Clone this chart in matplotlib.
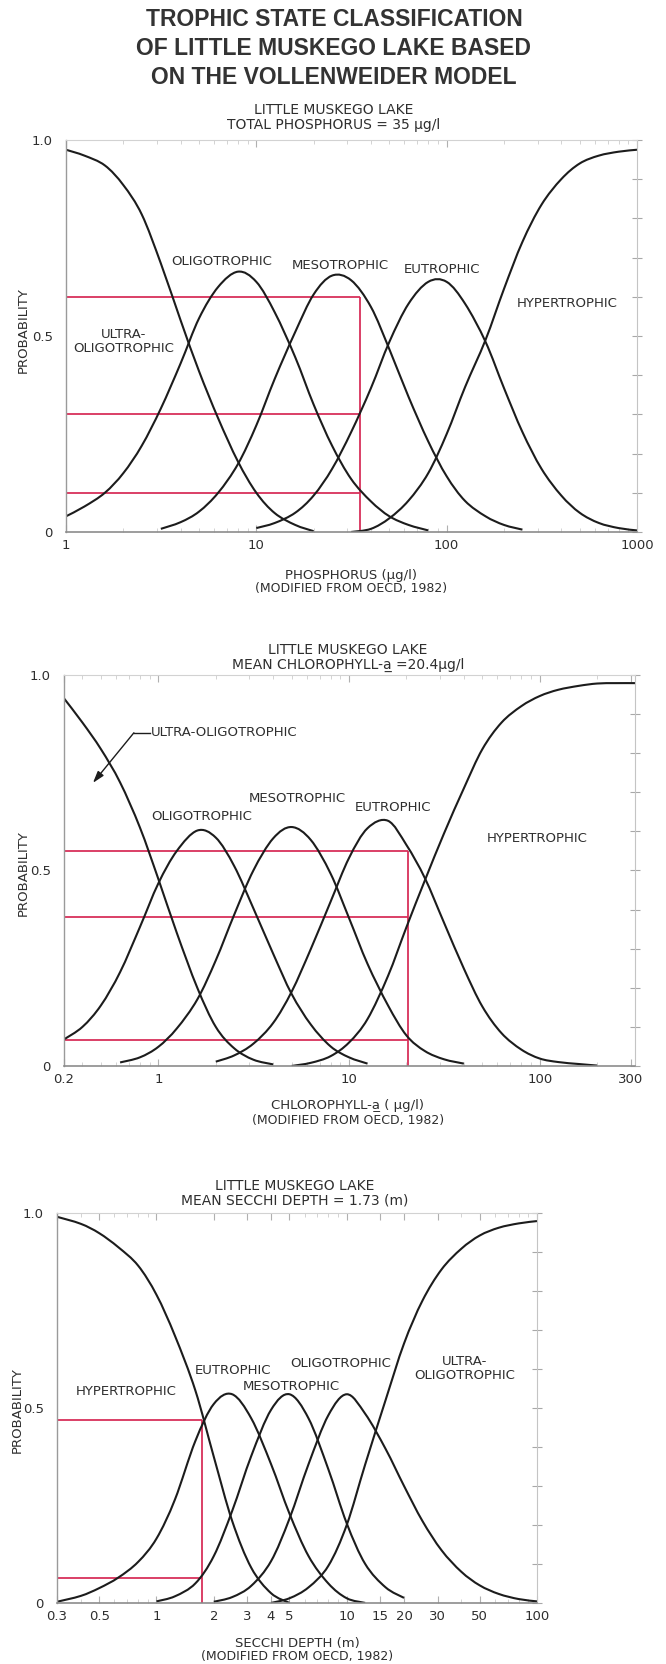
import numpy as np
import matplotlib
matplotlib.use('Agg')
import matplotlib.pyplot as plt
from matplotlib.path import Path
from matplotlib.patches import PathPatch
from matplotlib.ticker import NullFormatter

N = None

# ---- phosphorus panel (ug/l), probability ----
tp_x = [1, 1.25, 1.6, 2, 2.5, 3.15, 4, 5, 6.3, 8, 10, 12.5, 16, 20, 25, 31.5,
        40, 50, 63, 80, 100, 125, 160, 200, 250, 315, 400, 500, 630, 800, 1000]
tp_ultra = [0.975, 0.96, 0.935, 0.885, 0.81, 0.685, 0.54, 0.41, 0.29, 0.18, 0.10,
            0.048, 0.018, 0.002] + [N] * 17
tp_oligo = [0.04, 0.065, 0.10, 0.15, 0.22, 0.315, 0.43, 0.545, 0.625, 0.664, 0.638,
            0.56, 0.446, 0.325, 0.22, 0.135, 0.078, 0.04, 0.018, 0.004] + [N] * 11
tp_meso = [N] * 5 + [0.008, 0.025, 0.052, 0.1, 0.173, 0.272, 0.391, 0.51, 0.606, 0.654,
                     0.642, 0.574, 0.466, 0.345, 0.231, 0.142, 0.079, 0.04, 0.018, 0.006] + [N] * 6
tp_eutro = [N] * 10 + [0.010, 0.023, 0.049, 0.093, 0.161, 0.255, 0.367, 0.485, 0.582, 0.638,
                       0.638, 0.582, 0.485, 0.367, 0.255, 0.161, 0.093, 0.049, 0.023, 0.010, 0.004]
tp_hyper = [N] * 15 + [0.0, 0.008, 0.035, 0.08, 0.15, 0.25, 0.37, 0.49, 0.62, 0.74,
                       0.835, 0.90, 0.94, 0.96, 0.97, 0.975]
tp_lake = 35
tp_probs = [0.6, 0.3, 0.1]

# ---- chlorophyll-a panel (ug/l) ----
chl_x = [0.32, 0.4, 0.5, 0.63, 0.8, 1, 1.25, 1.6, 2, 2.5, 3.15, 4, 5, 6.3, 8, 10, 12.5,
         16, 20, 25, 31.5, 40, 50, 63, 80, 100, 125, 160, 200, 250, 316]
chl_ultra = [0.94, 0.878, 0.81, 0.725, 0.61, 0.478, 0.34, 0.20, 0.10, 0.045, 0.016,
             0.004] + [N] * 19
chl_oligo = [0.068, 0.10, 0.155, 0.24, 0.355, 0.467, 0.55, 0.602, 0.584, 0.511, 0.403,
             0.287, 0.184, 0.106, 0.05, 0.022, 0.006] + [N] * 14
chl_meso = [N] * 3 + [0.009, 0.022, 0.049, 0.096, 0.17, 0.27, 0.387, 0.50, 0.582, 0.611,
                      0.578, 0.492, 0.378, 0.261, 0.155, 0.078, 0.038, 0.017, 0.006] + [N] * 9
chl_eutro = [N] * 8 + [0.011, 0.027, 0.057, 0.11, 0.19, 0.299, 0.42, 0.532, 0.608, 0.627,
                       0.565, 0.48, 0.366, 0.249, 0.152, 0.084, 0.042, 0.019, 0.01, 0.005,
                       0.001] + [N] * 2
chl_hyper = [N] * 12 + [0.0, 0.008, 0.025, 0.06, 0.12, 0.23, 0.355, 0.475, 0.595, 0.71,
                        0.81, 0.878, 0.92, 0.946, 0.962, 0.972, 0.978, 0.979, 0.979]
chl_lake = 20.4
chl_probs = [0.55, 0.38, 0.067]

# ---- secchi depth panel (m) ----
sd_x = [0.3, 0.4, 0.5, 0.63, 0.8, 1, 1.25, 1.6, 2, 2.5, 3.15, 4, 5, 6.3, 8, 10, 12.5,
        16, 20, 25, 31.5, 40, 50, 63, 80, 100]
sd_hyper = [0.99, 0.972, 0.948, 0.912, 0.865, 0.79, 0.685, 0.545, 0.375, 0.21, 0.09, 0.025,
            0.0] + [N] * 13
sd_eutro = [0.003, 0.018, 0.038, 0.065, 0.105, 0.165, 0.265, 0.415, 0.51, 0.535, 0.473,
            0.356, 0.229, 0.12, 0.05, 0.012, 0.0] + [N] * 9
sd_meso = [N] * 5 + [0.004, 0.017, 0.05, 0.12, 0.236, 0.377, 0.495, 0.535, 0.473, 0.343,
                     0.204, 0.10, 0.04, 0.013] + [N] * 7
sd_oligo = [N] * 8 + [0.003, 0.015, 0.044, 0.107, 0.216, 0.356, 0.481, 0.535, 0.485, 0.395,
                      0.30, 0.21, 0.135, 0.08, 0.045, 0.023, 0.01, 0.004]
sd_ultra = [N] * 11 + [0.0, 0.012, 0.04, 0.095, 0.2, 0.355, 0.52, 0.665, 0.775, 0.855,
                       0.908, 0.942, 0.962, 0.973, 0.979]
sd_lake = 1.73
sd_probs = [0.47, 0.065]

CURVE = '#1c1c1c'
RED = '#d8305a'
TXT = '#2e2e2e'
FONT = 'DejaVu Sans'
FS = 9.5


def smooth_path(x, y):
    # smooth cubic path through the read points, built in log-x space
    ok = ~np.isnan(y)
    pts = np.column_stack([np.log10(np.asarray(x, float)[ok]), y[ok]])
    n = len(pts)
    verts = [pts[0]]
    codes = [Path.MOVETO]
    for i in range(n - 1):
        p0 = pts[i - 1] if i > 0 else pts[i]
        p1, p2 = pts[i], pts[i + 1]
        p3 = pts[i + 2] if i + 2 < n else pts[i + 1]
        verts += [p1 + (p2 - p0) / 6, p2 - (p3 - p1) / 6, p2]
        codes += [Path.CURVE4] * 3
    verts = np.array(verts)
    verts[:, 0] = 10 ** verts[:, 0]
    return Path(verts, codes)


def style_axes(ax, xlim, xticks, xticklabels):
    ax.set_xscale('log')
    ax.set_xlim(*xlim)
    ax.set_ylim(0, 1.0)
    ax.set_xticks(xticks)
    ax.set_xticklabels(xticklabels)
    ax.xaxis.set_minor_formatter(NullFormatter())
    ax.set_yticks([0, 0.5, 1.0])
    ax.set_yticklabels(['0', '0.5', '1.0'])
    ax.set_yticks([0.1, 0.2, 0.3, 0.4, 0.6, 0.7, 0.8, 0.9], minor=True)
    ax.tick_params(axis='x', which='major', direction='in', length=5, width=0.8,
                   color='#b0b0b0', labelsize=FS, labelcolor=TXT, pad=5, top=True)
    ax.tick_params(axis='x', which='minor', direction='in', length=3, width=0.6,
                   color='#cccccc', top=True)
    ax.tick_params(axis='y', which='both', left=False, right=True, direction='inout',
                   length=7, width=0.8, color='#a8a8a8', labelsize=FS,
                   labelcolor=TXT, pad=6)
    for lab in ax.get_xticklabels() + ax.get_yticklabels():
        lab.set_family(FONT)
    ax.spines['left'].set_color('#9a9a9a')
    ax.spines['left'].set_linewidth(1.0)
    ax.spines['bottom'].set_color('#8c8c8c')
    ax.spines['bottom'].set_linewidth(1.2)
    ax.spines['top'].set_color('#d2d2d2')
    ax.spines['top'].set_linewidth(0.8)
    ax.spines['right'].set_color('#c4c4c4')
    ax.spines['right'].set_linewidth(0.8)


def draw_panel(ax, x, curves, lake_value, lake_probs, xlim):
    ax.hlines(lake_probs, xlim[0], lake_value, color=RED, lw=1.3, zorder=1)
    ax.vlines(lake_value, 0, max(lake_probs), color=RED, lw=1.3, zorder=1)
    for y in curves:
        path = smooth_path(x, np.array(y, dtype=float))
        ax.add_patch(PathPatch(path, fill=False, edgecolor=CURVE, lw=1.5, zorder=2))


def label(ax, text, x, y):
    ax.text(x, y, text, ha='center', va='center', fontsize=FS, color=TXT,
            family=FONT, multialignment='center', linespacing=1.1)


def ftext(x, y, text, size=FS, **kw):
    fig.text(x, y, text, ha='center', va='center', fontsize=size, color=TXT,
             family=FONT, **kw)


fig = plt.figure(figsize=(6.66, 16.64), dpi=100)

# main title
for y, line in zip([0.9880, 0.9706, 0.9537],
                   ['TROPHIC STATE CLASSIFICATION',
                    'OF LITTLE MUSKEGO LAKE BASED',
                    'ON THE VOLLENWEIDER MODEL']):
    fig.text(0.5015, y, line, ha='center', va='center', fontsize=16.5,
             fontweight='bold', family='Liberation Sans', color='#333333')

# panel 1: phosphorus
ax1 = fig.add_axes([0.0991, 0.6803, 0.8574, 0.2356])
xlim1 = (1, 1000)
style_axes(ax1, xlim1, [1, 10, 100, 1000], ['1', '10', '100', '1000'])
draw_panel(ax1, tp_x, [tp_ultra, tp_oligo, tp_meso, tp_eutro, tp_hyper],
           tp_lake, tp_probs, xlim1)
label(ax1, 'ULTRA-\nOLIGOTROPHIC', 2.0, 0.487)
label(ax1, 'OLIGOTROPHIC', 6.6, 0.69)
label(ax1, 'MESOTROPHIC', 27.5, 0.68)
label(ax1, 'EUTROPHIC', 95, 0.669)
label(ax1, 'HYPERTROPHIC', 432, 0.582)
ftext(0.5015, 0.9339, 'LITTLE MUSKEGO LAKE', 10)
ftext(0.5015, 0.9249, 'TOTAL PHOSPHORUS = 35 µg/l', 10)
ftext(0.527, 0.6544, 'PHOSPHORUS (µg/l)')
ftext(0.527, 0.6466, '(MODIFIED FROM OECD, 1982)', 9)
ftext(0.0345, 0.8017, 'PROBABILITY', rotation=90)

# panel 2: chlorophyll-a
ax2 = fig.add_axes([0.0961, 0.3594, 0.8574, 0.2350])
xlim2 = (0.32, 316)
style_axes(ax2, xlim2, [0.32, 1, 10, 100, 300], ['0.2', '1', '10', '100', '300'])
draw_panel(ax2, chl_x, [chl_ultra, chl_oligo, chl_meso, chl_eutro, chl_hyper],
           chl_lake, chl_probs, xlim2)
ax2.plot([0.744, 0.90], [0.852, 0.852], color=CURVE, lw=1.0)
ax2.annotate('', xy=(0.454, 0.724), xytext=(0.744, 0.852),
             arrowprops=dict(arrowstyle='-|>,head_length=0.7,head_width=0.22',
                             color=CURVE, lw=1.0, shrinkA=0, shrinkB=0))
ax2.text(0.91, 0.852, 'ULTRA-OLIGOTROPHIC', ha='left', va='center', fontsize=FS,
         color=TXT, family=FONT)
label(ax2, 'OLIGOTROPHIC', 1.68, 0.637)
label(ax2, 'MESOTROPHIC', 5.38, 0.684)
label(ax2, 'EUTROPHIC', 17, 0.66)
label(ax2, 'HYPERTROPHIC', 97.5, 0.581)
ftext(0.5225, 0.6094, 'LITTLE MUSKEGO LAKE', 10)
ftext(0.5225, 0.6004, 'MEAN CHLOROPHYLL-a\u0332 =20.4µg/l', 10)
ftext(0.5225, 0.3359, 'CHLOROPHYLL-a\u0332 ( µg/l)')
ftext(0.5225, 0.3269, '(MODIFIED FROM OECD, 1982)', 9)
ftext(0.0345, 0.4754, 'PROBABILITY', rotation=90)

# panel 3: secchi depth
ax3 = fig.add_axes([0.0856, 0.0367, 0.7207, 0.2344])
xlim3 = (0.3, 100)
sd_ticks = [0.3, 0.5, 1, 2, 3, 4, 5, 10, 15, 20, 30, 50, 100]
style_axes(ax3, xlim3, sd_ticks, ['0.3', '0.5', '1', '2', '3', '4', '5', '10', '15',
                                  '20', '30', '50', '100'])
draw_panel(ax3, sd_x, [sd_hyper, sd_eutro, sd_meso, sd_oligo, sd_ultra],
           sd_lake, sd_probs, xlim3)
label(ax3, 'HYPERTROPHIC', 0.695, 0.542)
label(ax3, 'EUTROPHIC', 2.52, 0.597)
label(ax3, 'MESOTROPHIC', 5.1, 0.555)
label(ax3, 'OLIGOTROPHIC', 9.3, 0.615)
label(ax3, 'ULTRA-\nOLIGOTROPHIC', 41.7, 0.602)
ftext(0.443, 0.2873, 'LITTLE MUSKEGO LAKE', 10)
ftext(0.443, 0.2788, 'MEAN SECCHI DEPTH = 1.73 (m)', 10)
ftext(0.446, 0.0126, 'SECCHI DEPTH (m)')
ftext(0.446, 0.0048, '(MODIFIED FROM OECD, 1982)', 9)
ftext(0.0255, 0.1526, 'PROBABILITY', rotation=90)

fig.savefig('out.png', dpi=100)
